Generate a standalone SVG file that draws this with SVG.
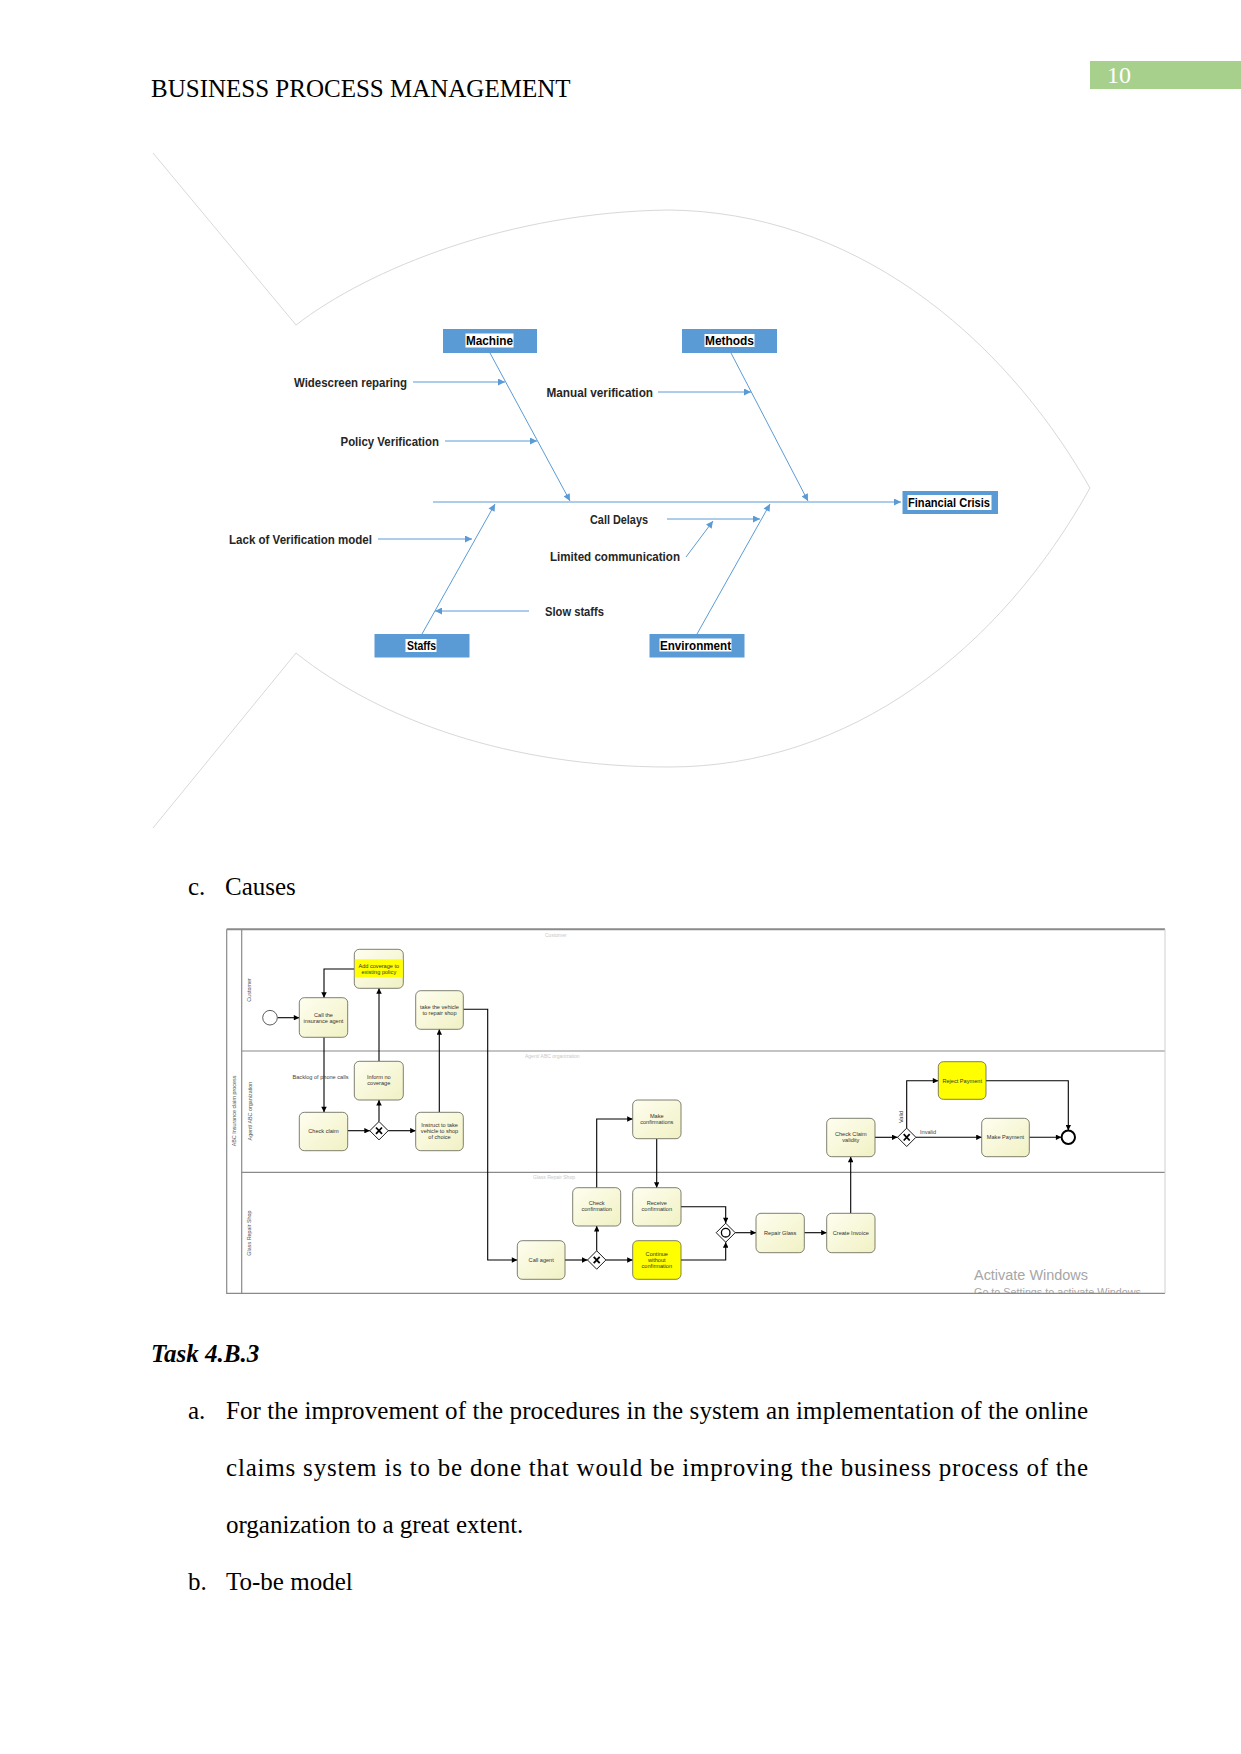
<svg xmlns="http://www.w3.org/2000/svg" width="1241" height="1754" viewBox="0 0 1241 1754">
<style>
.doc{font-family:"Liberation Serif","Times New Roman",serif;font-size:25px;fill:#000}
.fish{stroke:#d8d8d8;stroke-width:1;fill:none}
.fb-box{fill:#5b9bd5}
.fb-lbl{fill:#fff}
.fb-t{font-family:"Liberation Sans",Arial,sans-serif;font-size:12px;font-weight:bold;fill:#262626}
.fb-c{text-anchor:middle;fill:#000}
.fb-l{stroke:#5b9bd5;stroke-width:1;fill:none}
.task{fill:url(#tg);stroke:#5f5f50;stroke-width:0.8}
.task-y{fill:#ffff00;stroke:#5f5f50;stroke-width:0.8}
.bt{font-family:"Liberation Sans",Arial,sans-serif;font-size:5.6px;fill:#333;text-anchor:middle}
.bl{font-family:"Liberation Sans",Arial,sans-serif;font-size:5.6px;fill:#444}
.lt{font-family:"Liberation Sans",Arial,sans-serif;font-size:5.4px;fill:#555;text-anchor:middle}
.ft{font-family:"Liberation Sans",Arial,sans-serif;font-size:5px;fill:#c8c8c8}
.flow{stroke:#000;stroke-width:1.1;fill:none}
.lane{stroke:#8a8a8a;stroke-width:1.2;fill:none}
.gw{fill:#fff;stroke:#000;stroke-width:0.9}
.gx{stroke:#000;stroke-width:1.8}
.wm{font-family:"Liberation Sans",Arial,sans-serif;fill:#a6a6a6}
</style>
<defs>
<marker id="fa" viewBox="0 0 10 10" refX="10" refY="5" markerWidth="8" markerHeight="7" markerUnits="userSpaceOnUse" orient="auto"><path d="M0,0 L10,5 L0,10 z" fill="#5b9bd5"/></marker>
<marker id="ba" viewBox="0 0 10 10" refX="10" refY="5" markerWidth="6.5" markerHeight="5.5" markerUnits="userSpaceOnUse" orient="auto"><path d="M0,0 L10,5 L0,10 z" fill="#000"/></marker>
<linearGradient id="tg" x1="0" y1="0" x2="1" y2="1"><stop offset="0" stop-color="#fefef0"/><stop offset="1" stop-color="#f1f1c4"/></linearGradient>
<clipPath id="poolclip"><rect x="226" y="929" width="940" height="364"/></clipPath>
</defs>
<rect width="1241" height="1754" fill="#fff"/>

<g id="header">
<text class="doc" x="151" y="97">BUSINESS PROCESS MANAGEMENT</text>
<rect x="1090" y="61" width="151" height="28" fill="#a8d08d"/>
<text class="doc" x="1107" y="83" font-size="24" fill="#fff" style="fill:#fff;font-size:24px">10</text>
</g>

<g id="fish-outline">
<path class="fish" d="M153,153 L296,325 C370,268 510,212 669,210 C850,212 1000,330 1090,488 C1000,650 850,767 669,767 C510,767 380,720 296,653 L153,828"/>
</g>

<g id="fishbone-connectors">
<path class="fb-l" d="M433,502 L901,502" marker-end="url(#fa)"/>
<path class="fb-l" d="M490,353 L570,501" marker-end="url(#fa)"/>
<path class="fb-l" d="M731,353 L808,501" marker-end="url(#fa)"/>
<path class="fb-l" d="M422,634 L495,504" marker-end="url(#fa)"/>
<path class="fb-l" d="M697,634 L770,504" marker-end="url(#fa)"/>
<path class="fb-l" d="M413,382 L505,382" marker-end="url(#fa)"/>
<path class="fb-l" d="M445,441 L537,441" marker-end="url(#fa)"/>
<path class="fb-l" d="M658,392 L751,392" marker-end="url(#fa)"/>
<path class="fb-l" d="M378,539 L472,539" marker-end="url(#fa)"/>
<path class="fb-l" d="M529,611 L435,611" marker-end="url(#fa)"/>
<path class="fb-l" d="M667,519 L760,519" marker-end="url(#fa)"/>
<path class="fb-l" d="M686,557 L713,521" marker-end="url(#fa)"/>
</g>

<g id="fb-machine">
<rect class="fb-box" x="443" y="329" width="94" height="24"/>
<rect class="fb-lbl" x="465.5" y="333.5" width="48" height="14"/>
<text class="fb-t fb-c" x="489.5" y="345" textLength="47" lengthAdjust="spacingAndGlyphs">Machine</text>
</g>
<g id="fb-methods">
<rect class="fb-box" x="682" y="329" width="95" height="24"/>
<rect class="fb-lbl" x="704.5" y="334" width="50" height="13"/>
<text class="fb-t fb-c" x="729.5" y="345" textLength="49" lengthAdjust="spacingAndGlyphs">Methods</text>
</g>
<g id="fb-staffs">
<rect class="fb-box" x="374.5" y="634" width="95" height="23.5"/>
<rect class="fb-lbl" x="405.5" y="639" width="31" height="13"/>
<text class="fb-t fb-c" x="421.5" y="650" textLength="29" lengthAdjust="spacingAndGlyphs">Staffs</text>
</g>
<g id="fb-environment">
<rect class="fb-box" x="649.5" y="634" width="95" height="23.5"/>
<rect class="fb-lbl" x="659.5" y="638.5" width="72" height="13"/>
<text class="fb-t fb-c" x="695.5" y="650" textLength="71" lengthAdjust="spacingAndGlyphs">Environment</text>
</g>
<g id="fb-financial-crisis">
<rect class="fb-box" x="902.5" y="491" width="95.5" height="23"/>
<rect class="fb-lbl" x="907.5" y="495" width="84" height="15"/>
<text class="fb-t fb-c" x="949" y="507" textLength="82" lengthAdjust="spacingAndGlyphs">Financial Crisis</text>
</g>
<g id="fb-causes">
<text class="fb-t" x="294" y="386.5" textLength="113" lengthAdjust="spacingAndGlyphs">Widescreen reparing</text>
<text class="fb-t" x="340.5" y="445.5" textLength="98.5" lengthAdjust="spacingAndGlyphs">Policy Verification</text>
<text class="fb-t" x="546.5" y="396.5" textLength="106.5" lengthAdjust="spacingAndGlyphs">Manual verification</text>
<text class="fb-t" x="229" y="543.5" textLength="143" lengthAdjust="spacingAndGlyphs">Lack of Verification model</text>
<text class="fb-t" x="590" y="523.5" textLength="58" lengthAdjust="spacingAndGlyphs">Call Delays</text>
<text class="fb-t" x="550" y="561" textLength="130" lengthAdjust="spacingAndGlyphs">Limited communication</text>
<text class="fb-t" x="545" y="615.5" textLength="59" lengthAdjust="spacingAndGlyphs">Slow staffs</text>
</g>

<g id="caption-c">
<text class="doc" x="188" y="895">c.</text>
<text class="doc" x="225" y="895">Causes</text>
</g>

<g id="pool">
<path class="lane" d="M226.7,929.3 L1165,929.3" style="stroke-width:2"/>
<path class="lane" d="M226.7,929.3 L226.7,1293.3 L1165,1293.3"/>
<path class="lane" d="M241.7,929.3 L241.7,1293.3"/>
<path class="lane" d="M241.7,1051 L1165,1051"/>
<path class="lane" d="M241.7,1172.3 L1165,1172.3"/>
<path d="M1165,929.3 L1165,1293.3" stroke="#d0d0d0" stroke-width="1"/>
<text class="lt" x="236" y="1111" transform="rotate(-90 236 1111)">ABC Insurance claim process</text>
<text class="lt" x="250.5" y="990" transform="rotate(-90 250.5 990)">Customer</text>
<text class="lt" x="252" y="1111" transform="rotate(-90 252 1111)">Agent/ ABC organization</text>
<text class="lt" x="250.5" y="1233" transform="rotate(-90 250.5 1233)">Glass Repair Shop</text>
<text class="ft" x="545" y="937">Customer</text>
<text class="ft" x="525" y="1058">Agent/ ABC organization</text>
<text class="ft" x="533" y="1179">Glass Repair Shop</text>
</g>

<g id="bpmn-connectors">
<path class="flow" d="M277.5,1017.7 L299.3,1017.7" marker-end="url(#ba)"/>
<path class="flow" d="M354.3,969 L324,969 L324,997.7" marker-end="url(#ba)"/>
<path class="flow" d="M324,1037.3 L324,1112.3" marker-end="url(#ba)"/>
<path class="flow" d="M347.7,1130.7 L369.8,1130.7" marker-end="url(#ba)"/>
<path class="flow" d="M388.2,1130.7 L415.7,1130.7" marker-end="url(#ba)"/>
<path class="flow" d="M379,1121.5 L379,1100" marker-end="url(#ba)"/>
<path class="flow" d="M379,1061.3 L379,988.3" marker-end="url(#ba)"/>
<path class="flow" d="M439.3,1112.3 L439.3,1029.3" marker-end="url(#ba)"/>
<path class="flow" d="M463.3,1009.3 L487.7,1009.3 L487.7,1260 L517.3,1260" marker-end="url(#ba)"/>
<path class="flow" d="M565,1260 L587.5,1260" marker-end="url(#ba)"/>
<path class="flow" d="M596.7,1250.8 L596.7,1226" marker-end="url(#ba)"/>
<path class="flow" d="M596.7,1187.7 L596.7,1119 L632.7,1119" marker-end="url(#ba)"/>
<path class="flow" d="M656.7,1138.7 L656.7,1187.7" marker-end="url(#ba)"/>
<path class="flow" d="M605.9,1260 L632.7,1260" marker-end="url(#ba)"/>
<path class="flow" d="M681,1206.7 L725.7,1206.7 L725.7,1223.2" marker-end="url(#ba)"/>
<path class="flow" d="M681,1260 L725.7,1260 L725.7,1242.2" marker-end="url(#ba)"/>
<path class="flow" d="M735.2,1232.7 L756,1232.7" marker-end="url(#ba)"/>
<path class="flow" d="M804.3,1232.7 L826.7,1232.7" marker-end="url(#ba)"/>
<path class="flow" d="M850.7,1213.3 L850.7,1156.7" marker-end="url(#ba)"/>
<path class="flow" d="M875,1137.3 L897.5,1137.3" marker-end="url(#ba)"/>
<path class="flow" d="M906.7,1128.1 L906.7,1080.7 L938.3,1080.7" marker-end="url(#ba)"/>
<path class="flow" d="M915.9,1137.3 L981.7,1137.3" marker-end="url(#ba)"/>
<path class="flow" d="M986,1080.7 L1068.3,1080.7 L1068.3,1130.4" marker-end="url(#ba)"/>
<path class="flow" d="M1029.3,1137.3 L1061.4,1137.3" marker-end="url(#ba)"/>
<text class="bl" x="320.5" y="1079.3" text-anchor="middle">Backlog of phone calls</text>
<text class="bl" x="903" y="1117" text-anchor="middle" transform="rotate(-90 903 1117)">Valid</text>
<text class="bl" x="920" y="1133.5">Invalid</text>
</g>

<g id="start-event"><circle cx="270" cy="1017.7" r="7.3" fill="#fff" stroke="#333" stroke-width="0.8"/></g>
<g id="t-call-insurance-agent"><rect class="task" x="299.3" y="997.7" width="48.4" height="39.6" rx="5"/><text class="bt" x="323.5" y="1016.5">Call the</text><text class="bt" x="323.5" y="1022.5">insurance agent</text></g>
<g id="t-add-coverage"><rect class="task" x="354.3" y="949.3" width="49" height="39" rx="5"/><rect x="354.8" y="959.3" width="48" height="18" fill="#ffff00"/><text class="bt" x="378.8" y="967.7">Add coverage to</text><text class="bt" x="378.8" y="973.7">existing policy</text></g>
<g id="t-take-vehicle"><rect class="task" x="415.7" y="990.7" width="47.6" height="38.6" rx="5"/><text class="bt" x="439.5" y="1009.3">take the vehicle</text><text class="bt" x="439.5" y="1015.3">to repair shop</text></g>
<g id="t-inform-no-coverage"><rect class="task" x="354.3" y="1061.3" width="49" height="38.7" rx="5"/><text class="bt" x="378.8" y="1078.7">Inform no</text><text class="bt" x="378.8" y="1085.3">coverage</text></g>
<g id="t-check-claim"><rect class="task" x="299.3" y="1112.3" width="48.4" height="38.4" rx="5"/><text class="bt" x="323.5" y="1132.7">Check claim</text></g>
<g id="gw-1"><path class="gw" d="M379,1121.5 L388.2,1130.7 L379,1139.9 L369.8,1130.7 Z"/><path class="gx" d="M376,1127.5 L382,1133.9 M382,1127.5 L376,1133.9"/></g>
<g id="t-instruct"><rect class="task" x="415.7" y="1112.3" width="47.6" height="38.4" rx="5"/><text class="bt" x="439.5" y="1126.7">Instruct to take</text><text class="bt" x="439.5" y="1132.7">vehicle to shop</text><text class="bt" x="439.5" y="1138.7">of choice</text></g>
<g id="t-call-agent"><rect class="task" x="517.3" y="1240.7" width="47.7" height="38.6" rx="5"/><text class="bt" x="541.2" y="1262">Call agent</text></g>
<g id="gw-2"><path class="gw" d="M596.7,1250.8 L605.9,1260 L596.7,1269.2 L587.5,1260 Z"/><path class="gx" d="M593.7,1256.8 L599.7,1263.2 M599.7,1256.8 L593.7,1263.2"/></g>
<g id="t-check-confirmation"><rect class="task" x="572.7" y="1187.7" width="48" height="38.3" rx="5"/><text class="bt" x="596.7" y="1205.3">Check</text><text class="bt" x="596.7" y="1211.3">confirmation</text></g>
<g id="t-make-confirmations"><rect class="task" x="632.7" y="1100" width="48.3" height="38.7" rx="5"/><text class="bt" x="656.8" y="1118">Make</text><text class="bt" x="656.8" y="1123.7">confirmations</text></g>
<g id="t-receive-confirmation"><rect class="task" x="632.7" y="1187.7" width="48.3" height="38.3" rx="5"/><text class="bt" x="656.8" y="1205.3">Receive</text><text class="bt" x="656.8" y="1211.3">confirmation</text></g>
<g id="t-continue"><rect class="task-y" x="632.7" y="1240.7" width="48.3" height="38.6" rx="5"/><text class="bt" x="656.8" y="1256">Continue</text><text class="bt" x="656.8" y="1262">without</text><text class="bt" x="656.8" y="1267.7">confirmation</text></g>
<g id="gw-3"><path class="gw" d="M725.7,1223.2 L735.2,1232.7 L725.7,1242.2 L716.2,1232.7 Z"/><circle cx="725.7" cy="1232.7" r="4.3" fill="none" stroke="#000" stroke-width="1.3"/></g>
<g id="t-repair-glass"><rect class="task" x="756" y="1213.3" width="48.3" height="39.4" rx="5"/><text class="bt" x="780.2" y="1234.7">Repair Glass</text></g>
<g id="t-create-invoice"><rect class="task" x="826.7" y="1213.3" width="48.3" height="39.4" rx="5"/><text class="bt" x="850.8" y="1234.7">Create Invoice</text></g>
<g id="t-check-claim-validity"><rect class="task" x="826.7" y="1118.3" width="48.3" height="38.4" rx="5"/><text class="bt" x="850.8" y="1136.3">Check Claim</text><text class="bt" x="850.8" y="1142">validity</text></g>
<g id="gw-4"><path class="gw" d="M906.7,1128.1 L915.9,1137.3 L906.7,1146.5 L897.5,1137.3 Z"/><path class="gx" d="M903.7,1134.1 L909.7,1140.5 M909.7,1134.1 L903.7,1140.5"/></g>
<g id="t-reject-payment"><rect class="task-y" x="938.3" y="1061.7" width="47.7" height="37.6" rx="5"/><text class="bt" x="962.2" y="1082.7">Reject Payment</text></g>
<g id="t-make-payment"><rect class="task" x="981.7" y="1118.3" width="47.6" height="38.4" rx="5"/><text class="bt" x="1005.5" y="1139.3">Make Payment</text></g>
<g id="end-event"><circle cx="1068.3" cy="1137.3" r="6.7" fill="#fff" stroke="#000" stroke-width="2"/></g>

<g id="watermark" clip-path="url(#poolclip)">
<text class="wm" x="974" y="1280" font-size="14" style="font-size:14px" textLength="114" lengthAdjust="spacingAndGlyphs">Activate Windows</text>
<text class="wm" x="974" y="1296" font-size="11" style="font-size:11px" textLength="170" lengthAdjust="spacingAndGlyphs">Go to Settings to activate Windows.</text>
</g>

<g id="body-text">
<text class="doc" x="151" y="1362" font-style="italic" font-weight="bold" style="font-style:italic;font-weight:bold">Task 4.B.3</text>
<text class="doc" x="188" y="1418.5">a.</text>
<text class="doc" x="226" y="1418.5" textLength="862" lengthAdjust="spacing">For the improvement of the procedures in the system an implementation of the online</text>
<text class="doc" x="226" y="1476" textLength="862" lengthAdjust="spacing">claims system is to be done that would be improving the business process of the</text>
<text class="doc" x="226" y="1533">organization to a great extent.</text>
<text class="doc" x="188" y="1590">b.</text>
<text class="doc" x="226" y="1590">To-be model</text>
</g>
</svg>
